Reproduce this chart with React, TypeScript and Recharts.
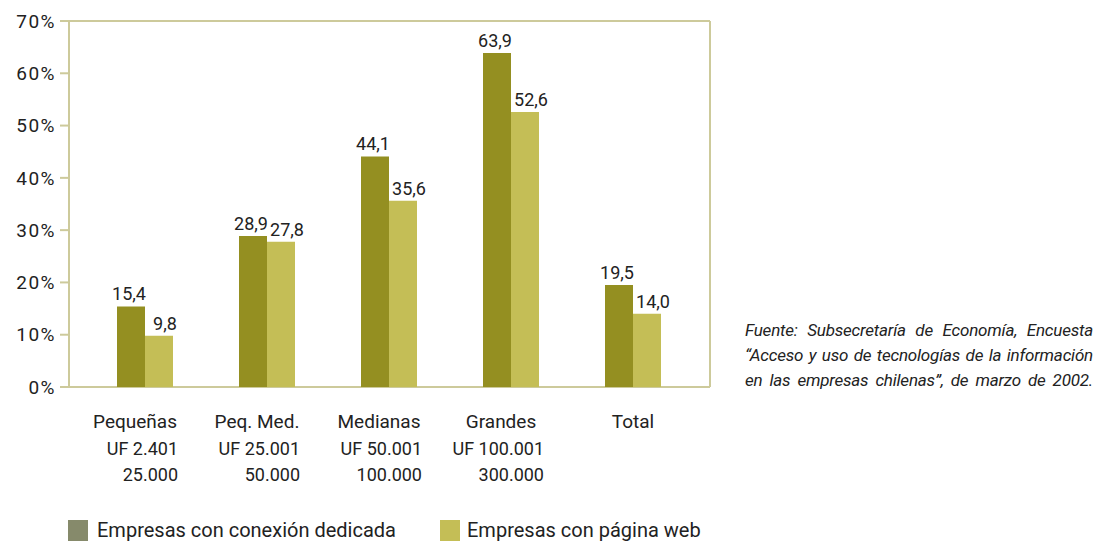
import React from 'react';
import { BarChart, Bar, XAxis, YAxis, CartesianGrid, LabelList } from 'recharts';

const categories = ['Pequeñas', 'Peq. Med.', 'Medianas', 'Grandes', 'Total'];
const ranges = [
  ['UF 2.401', '25.000'],
  ['UF 25.001', '50.000'],
  ['UF 50.001', '100.000'],
  ['UF 100.001', '300.000'],
  [],
];
const conexionDedicada = [15.4, 28.9, 44.1, 63.9, 19.5];
const paginaWeb = [9.8, 27.8, 35.6, 52.6, 14.0];
const yTicks = [0, 10, 20, 30, 40, 50, 60, 70];
const sourceLines = [
  'Fuente: Subsecretaría de Economía, Encuesta',
  '“Acceso y uso de tecnologías de la información',
  'en las empresas chilenas”, de marzo de 2002.',
];

const DARK = '#948f21';
const LIGHT = '#c4be56';
const LINE = '#cdca9b';
const FONT = 'Roboto, "Open Sans", sans-serif';

const data = categories.map((name, i) => ({
  name,
  range: ranges[i],
  conexion: conexionDedicada[i],
  web: paginaWeb[i],
}));

const fmt = (v: number) => v.toFixed(1).replace('.', ',');

const CategoryTick = (props: any) => {
  const { x, y, payload, index } = props;
  const extra = ranges[index] || [];
  if (extra.length === 0) {
    return (
      <text x={x} y={y + 33} textAnchor="middle" fontSize={19} fill="#222" fontFamily={FONT}>
        {payload.value}
      </text>
    );
  }
  return (
    <g>
      <text x={x - 10} y={y + 33} textAnchor="middle" fontSize={19} fill="#222" fontFamily={FONT}>
        {payload.value}
      </text>
      {extra.map((line: string, k: number) => (
        <text key={k} x={x + 33} y={y + 60 + k * 26} textAnchor="end" fontSize={18} fill="#222" fontFamily={FONT}>
          {line}
        </text>
      ))}
    </g>
  );
};

const App = () => {
  return (
    <div style={{ position: 'absolute', left: 0, top: 0, width: 1099, height: 542, background: '#fff', fontFamily: FONT }}>
      <BarChart
        width={712}
        height={500}
        data={data}
        margin={{ top: 21, right: 0, left: 0, bottom: 13 }}
        barGap={0}
        barCategoryGap={33}
      >
        <CartesianGrid vertical={false} stroke={LINE} strokeWidth={2} />
        <XAxis
          dataKey="name"
          height={100}
          padding={{ left: 15, right: 16 }}
          axisLine={false}
          tickLine={false}
          interval={0}
          tick={<CategoryTick />}
        />
        <YAxis
          yAxisId="left"
          width={69}
          domain={[0, 70]}
          ticks={yTicks}
          interval={0}
          tickFormatter={(v: number) => `${v}%`}
          axisLine={{ stroke: LINE, strokeWidth: 2 }}
          tickLine={{ stroke: LINE, strokeWidth: 2 }}
          tickSize={9}
          tickMargin={4}
          tick={{ fontSize: 19, fill: '#222', fontFamily: FONT, letterSpacing: 1.5 }}
        />
        <YAxis
          yAxisId="right"
          orientation="right"
          width={2}
          domain={[0, 70]}
          tick={false}
          tickLine={false}
          axisLine={{ stroke: LINE, strokeWidth: 2 }}
        />
        <Bar yAxisId="left" dataKey="conexion" fill={DARK} barSize={28} isAnimationActive={false}>
          <LabelList dataKey="conexion" position="top" offset={6} dx={-2} formatter={(v: number) => fmt(v)}
            style={{ fontSize: 18, fill: '#222', fontFamily: FONT }} />
        </Bar>
        <Bar yAxisId="left" dataKey="web" fill={LIGHT} barSize={28} isAnimationActive={false}>
          <LabelList dataKey="web" position="top" offset={6} dx={6} formatter={(v: number) => fmt(v)}
            style={{ fontSize: 18, fill: '#222', fontFamily: FONT }} />
        </Bar>
      </BarChart>

      {/* legend */}
      <div style={{ position: 'absolute', left: 68, top: 518, display: 'flex', alignItems: 'center', fontSize: 20, color: '#222' }}>
        <span style={{ width: 20, height: 21, background: '#868a6b', display: 'inline-block', marginRight: 9 }} />
        <span style={{ width: 343 }}>Empresas con conexión dedicada</span>
        <span style={{ width: 20, height: 21, background: LIGHT, display: 'inline-block', marginRight: 7 }} />
        <span>Empresas con página web</span>
      </div>

      {/* source note */}
      <div style={{ position: 'absolute', left: 745, top: 318, width: 348, fontSize: 17, fontStyle: 'italic', color: '#222', lineHeight: '25px', letterSpacing: -0.2 }}>
        {sourceLines.map((l, i) => (
          <div key={i} style={{ textAlign: 'justify', textAlignLast: 'justify', whiteSpace: 'nowrap' }}>{l}</div>
        ))}
      </div>
    </div>
  );
};

export default App;
